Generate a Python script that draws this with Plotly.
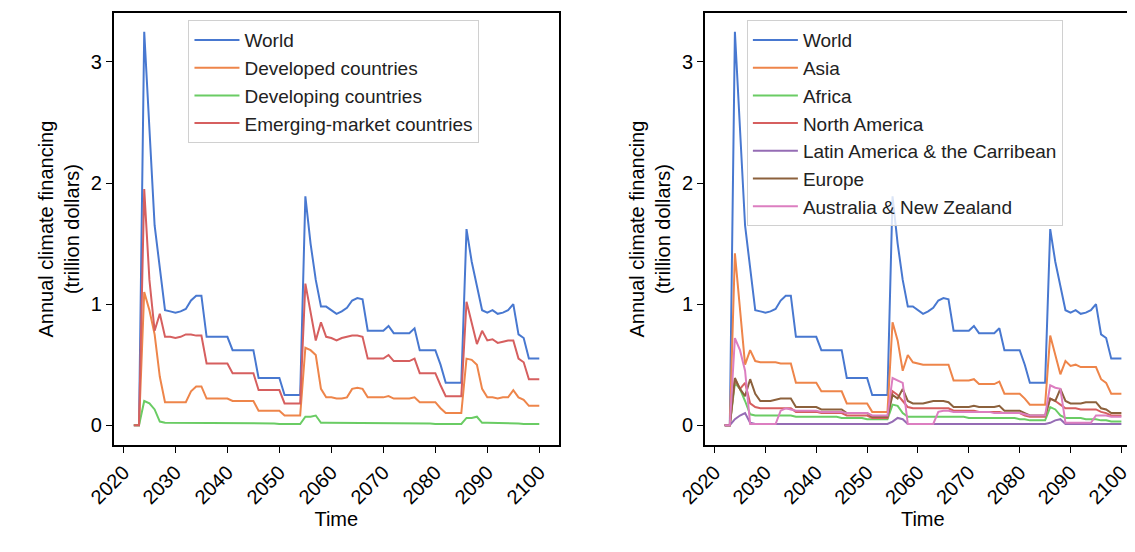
import plotly.graph_objects as go

years = list(range(2022, 2101))

# left panel: development groups (trillion dollars)
world = [0, 0, 3.25, 2.4, 1.65, 1.3, 0.95, 0.94,
         0.93, 0.94, 0.96, 1.03, 1.07, 1.07, 0.73, 0.73, 0.73, 0.73,
         0.73, 0.62, 0.62, 0.62, 0.62, 0.62, 0.39, 0.39, 0.39, 0.39,
         0.39, 0.25, 0.25, 0.25, 0.25, 1.89, 1.5, 1.2, 0.98, 0.98,
         0.95, 0.92, 0.94, 0.97, 1.03, 1.05, 1.04, 0.78, 0.78, 0.78,
         0.78, 0.82, 0.76, 0.76, 0.76, 0.76, 0.8, 0.62, 0.62, 0.62,
         0.62, 0.5, 0.35, 0.35, 0.35, 0.35, 1.62, 1.35, 1.15, 0.95,
         0.93, 0.95, 0.92, 0.93, 0.95, 1.0, 0.75, 0.72, 0.55, 0.55, 0.55]
developed = [0, 0, 1.1, 0.95, 0.75, 0.4, 0.19, 0.19,
             0.19, 0.19, 0.19, 0.28, 0.32, 0.32, 0.22, 0.22, 0.22, 0.22,
             0.22, 0.2, 0.2, 0.2, 0.2, 0.2, 0.12, 0.12, 0.12, 0.12,
             0.12, 0.08, 0.08, 0.08, 0.08, 0.64, 0.62, 0.58, 0.3, 0.23,
             0.23, 0.22, 0.22, 0.23, 0.3, 0.31, 0.3, 0.23, 0.23, 0.23,
             0.23, 0.24, 0.22, 0.22, 0.22, 0.22, 0.23, 0.19, 0.19, 0.19,
             0.19, 0.14, 0.1, 0.1, 0.1, 0.1, 0.55, 0.54, 0.5, 0.3,
             0.23, 0.23, 0.22, 0.23, 0.23, 0.29, 0.23, 0.21, 0.16, 0.16, 0.16]
developing = [0, 0, 0.2, 0.18, 0.13, 0.03, 0.02, 0.02,
              0.02, 0.02, 0.02, 0.02, 0.02, 0.02, 0.02, 0.02, 0.02, 0.02,
              0.015, 0.015, 0.015, 0.015, 0.015, 0.015, 0.015, 0.015, 0.015, 0.015,
              0.01, 0.01, 0.01, 0.01, 0.01, 0.07, 0.07, 0.08, 0.02, 0.02,
              0.02, 0.02, 0.02, 0.02, 0.02, 0.02, 0.02, 0.02, 0.02, 0.02,
              0.015, 0.015, 0.015, 0.015, 0.015, 0.015, 0.015, 0.015, 0.015, 0.015,
              0.01, 0.01, 0.01, 0.01, 0.01, 0.01, 0.06, 0.06, 0.07, 0.02,
              0.02, 0.02, 0.02, 0.015, 0.015, 0.015, 0.015, 0.01, 0.01, 0.01, 0.01]
emerging = [0, 0, 1.95, 1.2, 0.78, 0.92, 0.73, 0.73,
            0.72, 0.73, 0.75, 0.75, 0.74, 0.74, 0.51, 0.51, 0.51, 0.51,
            0.51, 0.43, 0.43, 0.43, 0.43, 0.43, 0.29, 0.29, 0.29, 0.29,
            0.29, 0.18, 0.18, 0.18, 0.18, 1.17, 0.95, 0.7, 0.85, 0.73,
            0.72, 0.7, 0.72, 0.73, 0.74, 0.74, 0.73, 0.55, 0.55, 0.55,
            0.55, 0.58, 0.53, 0.53, 0.53, 0.53, 0.55, 0.43, 0.43, 0.43,
            0.43, 0.33, 0.24, 0.24, 0.24, 0.24, 1.02, 0.85, 0.67, 0.78,
            0.7, 0.71, 0.68, 0.69, 0.7, 0.7, 0.55, 0.52, 0.38, 0.38, 0.38]

# right panel: regions
asia = [0, 0, 1.42, 0.95, 0.5, 0.62, 0.53, 0.52,
        0.52, 0.52, 0.52, 0.51, 0.51, 0.51, 0.35, 0.35, 0.35, 0.35,
        0.35, 0.28, 0.28, 0.28, 0.28, 0.28, 0.18, 0.18, 0.18, 0.18,
        0.18, 0.11, 0.11, 0.11, 0.11, 0.85, 0.7, 0.45, 0.58, 0.52,
        0.51, 0.5, 0.5, 0.5, 0.5, 0.5, 0.5, 0.37, 0.37, 0.37,
        0.37, 0.38, 0.34, 0.34, 0.34, 0.34, 0.36, 0.26, 0.26, 0.26,
        0.26, 0.22, 0.17, 0.17, 0.17, 0.17, 0.74, 0.58, 0.42, 0.53,
        0.49, 0.5, 0.48, 0.48, 0.48, 0.48, 0.38, 0.35, 0.26, 0.26, 0.26]
africa = [0, 0, 0.35, 0.3, 0.2, 0.09, 0.08, 0.08,
          0.08, 0.08, 0.08, 0.08, 0.08, 0.08, 0.07, 0.07, 0.07, 0.07,
          0.07, 0.07, 0.07, 0.07, 0.07, 0.06, 0.06, 0.06, 0.06, 0.06,
          0.05, 0.05, 0.05, 0.05, 0.05, 0.17, 0.16, 0.1, 0.07, 0.07,
          0.07, 0.07, 0.07, 0.07, 0.07, 0.07, 0.07, 0.07, 0.07, 0.07,
          0.06, 0.06, 0.06, 0.06, 0.06, 0.06, 0.06, 0.06, 0.06, 0.06,
          0.05, 0.05, 0.04, 0.04, 0.04, 0.04, 0.15, 0.13, 0.08, 0.06,
          0.06, 0.06, 0.06, 0.05, 0.05, 0.05, 0.04, 0.04, 0.03, 0.03, 0.03]
north_america = [0, 0, 0.38, 0.3, 0.35, 0.18, 0.15, 0.14,
                 0.14, 0.14, 0.14, 0.14, 0.14, 0.14, 0.11, 0.11, 0.11, 0.11,
                 0.11, 0.1, 0.1, 0.1, 0.1, 0.1, 0.08, 0.08, 0.08, 0.08,
                 0.08, 0.06, 0.06, 0.06, 0.06, 0.28, 0.25, 0.2, 0.15, 0.14,
                 0.14, 0.14, 0.14, 0.14, 0.14, 0.14, 0.14, 0.12, 0.12, 0.12,
                 0.12, 0.12, 0.11, 0.11, 0.11, 0.11, 0.11, 0.1, 0.1, 0.1,
                 0.1, 0.08, 0.07, 0.07, 0.07, 0.07, 0.22, 0.2, 0.17, 0.14,
                 0.14, 0.14, 0.13, 0.13, 0.13, 0.13, 0.11, 0.1, 0.08, 0.08, 0.08]
latin_america = [0, 0, 0.05, 0.08, 0.1, 0.02, 0.01, 0.01,
                 0.01, 0.01, 0.01, 0.01, 0.01, 0.01, 0.01, 0.01, 0.01, 0.01,
                 0.01, 0.01, 0.01, 0.01, 0.01, 0.01, 0.01, 0.01, 0.01, 0.01,
                 0.01, 0.01, 0.01, 0.01, 0.01, 0.03, 0.06, 0.05, 0.01, 0.01,
                 0.01, 0.01, 0.01, 0.01, 0.01, 0.01, 0.01, 0.01, 0.01, 0.01,
                 0.01, 0.01, 0.01, 0.01, 0.01, 0.01, 0.01, 0.01, 0.01, 0.01,
                 0.01, 0.01, 0.01, 0.01, 0.01, 0.01, 0.02, 0.04, 0.05, 0.01,
                 0.01, 0.01, 0.01, 0.01, 0.01, 0.01, 0.01, 0.01, 0.01, 0.01, 0.01]
europe = [0, 0, 0.39, 0.3, 0.24, 0.38, 0.26, 0.2,
          0.2, 0.2, 0.21, 0.22, 0.22, 0.22, 0.15, 0.15, 0.15, 0.15,
          0.15, 0.13, 0.13, 0.13, 0.13, 0.13, 0.1, 0.1, 0.1, 0.1,
          0.1, 0.07, 0.07, 0.07, 0.07, 0.25, 0.22, 0.3, 0.2, 0.18,
          0.18, 0.18, 0.19, 0.2, 0.2, 0.2, 0.19, 0.15, 0.15, 0.15,
          0.15, 0.16, 0.15, 0.15, 0.15, 0.15, 0.16, 0.12, 0.12, 0.12,
          0.12, 0.1, 0.08, 0.08, 0.08, 0.08, 0.22, 0.2, 0.3, 0.2,
          0.18, 0.18, 0.18, 0.19, 0.19, 0.19, 0.14, 0.13, 0.1, 0.1, 0.1]
australia_nz = [0, 0, 0.72, 0.62, 0.45, 0.01, 0.01, 0.01,
                0.01, 0.01, 0.01, 0.12, 0.14, 0.13, 0.12, 0.12, 0.12, 0.12,
                0.12, 0.11, 0.11, 0.11, 0.11, 0.11, 0.1, 0.1, 0.1, 0.1,
                0.1, 0.08, 0.08, 0.08, 0.08, 0.39, 0.37, 0.35, 0.01, 0.01,
                0.01, 0.01, 0.01, 0.01, 0.11, 0.12, 0.12, 0.11, 0.11, 0.11,
                0.11, 0.11, 0.11, 0.11, 0.11, 0.1, 0.1, 0.1, 0.1, 0.1,
                0.1, 0.09, 0.08, 0.08, 0.08, 0.08, 0.33, 0.31, 0.3, 0.02,
                0.02, 0.02, 0.02, 0.02, 0.02, 0.08, 0.08, 0.08, 0.07, 0.07, 0.07]

left_series = [("World", world), ("Developed countries", developed),
               ("Developing countries", developing), ("Emerging-market countries", emerging)]
right_series = [("World", world), ("Asia", asia), ("Africa", africa),
                ("North America", north_america), ("Latin America & the Carribean", latin_america),
                ("Europe", europe), ("Australia & New Zealand", australia_nz)]

colors = ["#4878d0", "#ee854a", "#6acc64", "#d65f5f", "#956cb4", "#8c613c", "#dc7ec0"]

fig = go.Figure()
for i, (name, vals) in enumerate(left_series):
    fig.add_trace(go.Scatter(x=years, y=vals, name=name, mode="lines",
                             line=dict(color=colors[i], width=2),
                             xaxis="x", yaxis="y", legend="legend"))
for i, (name, vals) in enumerate(right_series):
    fig.add_trace(go.Scatter(x=years, y=vals, name=name, mode="lines",
                             line=dict(color=colors[i], width=2),
                             xaxis="x2", yaxis="y2", legend="legend2"))

ax_common = dict(showline=True, linecolor="black", linewidth=1.5, mirror=True,
                 ticks="outside", ticklen=6, tickcolor="black", showgrid=False, zeroline=False,
                 automargin=False, tickfont=dict(size=20, color="black"))
xax = dict(ax_common, range=[2018.1, 2103.8], tickvals=list(range(2020, 2101, 10)),
           tickangle=-45, title=dict(text="Time", font=dict(size=20, color="black"), standoff=2))
yax = dict(ax_common, range=[-0.165, 3.405], tickvals=[0, 1, 2, 3],
           title=dict(text="Annual climate financing<br>(trillion dollars)",
                      font=dict(size=20, color="black"), standoff=6))

leg = dict(bgcolor="rgba(255,255,255,0.8)", bordercolor="#d0d0d0", borderwidth=1,
           font=dict(size=19, color="#222"), xanchor="left", yanchor="top",
           tracegroupgap=0, itemwidth=45)

fig.update_layout(
    width=1135, height=552, plot_bgcolor="white", paper_bgcolor="white",
    font=dict(family="Arial, Liberation Sans, sans-serif"),
    margin=dict(l=0, r=0, t=0, b=0),
    xaxis=dict(xax, domain=[0.093, 0.4855], anchor="y"),
    yaxis=dict(yax, domain=[0.208, 0.991], anchor="x"),
    xaxis2=dict(xax, domain=[0.614, 0.998], anchor="y2"),
    yaxis2=dict(yax, domain=[0.208, 0.991], anchor="x2"),
    legend=dict(leg, x=0.159, y=0.978),
    legend2=dict(leg, x=0.651, y=0.978),
)

fig.write_html("out.html")
